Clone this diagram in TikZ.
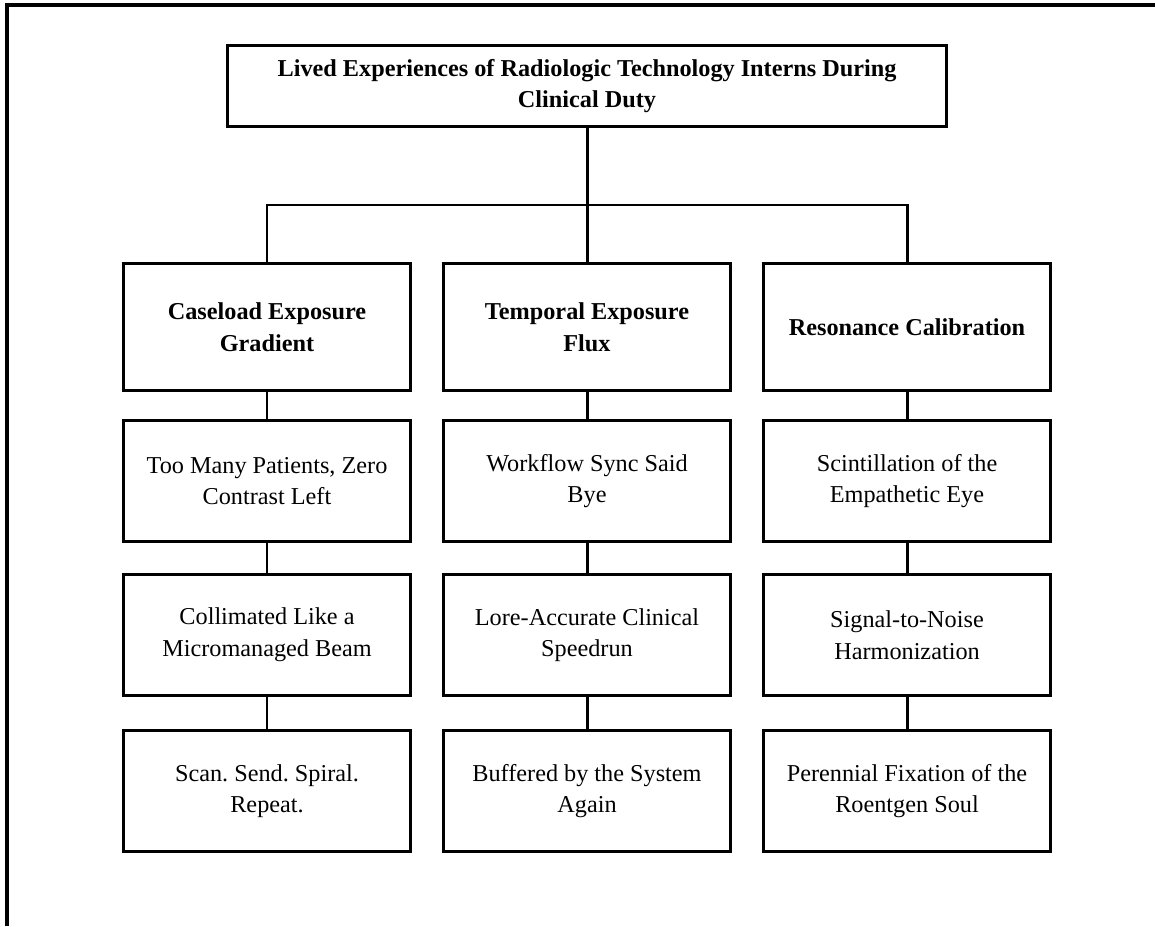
\documentclass[tikz,border=0pt]{standalone}
\usepackage{fontspec}
\setmainfont{Liberation Serif}
\usepackage{xcolor}
\usepackage{tikz}
\usetikzlibrary{positioning}
\frenchspacing
\tikzset{
    topnode/.style = {rectangle, draw=black, line width=1.7pt, align=center, font=\fontsize{13.8}{18}\selectfont\bfseries, minimum width=14.4cm, minimum height=1.62cm},
    headnode/.style = {rectangle, draw=black, line width=1.7pt, align=center, font=\fontsize{13.8}{18}\selectfont\bfseries, minimum width=5.76cm, minimum height=2.56cm},
    subnode/.style = {rectangle, draw=black, line width=1.7pt, align=center, font=\fontsize{13.8}{18}\selectfont, minimum width=5.76cm, minimum height=2.42cm},
}
\begin{document}
\begin{tikzpicture}[
	x=0.02cm,
	y=-0.02cm
]
\tikzset{
    link/.style = {-, line width=1.7pt, black},
    frame/.style = {-, line width=1.8pt, black}
}
\useasboundingbox (0,0) rectangle (1155,926);
\draw[frame] (1155,5) -- (7,5) -- (7,926);
%
\node[topnode] at (587,86) (lived) {Lived Experiences of Radiologic Technology Interns During\\Clinical Duty};
%
\node[headnode] at (267,327) (ceg) {Caseload Exposure\\Gradient};
\node[headnode] at (587,327) (tef) {Temporal Exposure\\Flux};
\node[headnode] at (907,327) (rc) {Resonance Calibration};
%
\node[subnode] at (267,481) (ceg1) {Too Many Patients, Zero\\Contrast Left};
\node[subnode] at (267,635) (ceg2) {Collimated Like a\\Micromanaged Beam};
\node[subnode] at (267,791) (ceg3) {Scan. Send. Spiral.\\Repeat.};
%
\node[subnode] at (587,481) (tef1) {Workflow Sync Said\\Bye};
\node[subnode] at (587,635) (tef2) {Lore-Accurate Clinical\\Speedrun};
\node[subnode] at (587,791) (tef3) {Buffered by the System\\Again};
%
\node[subnode] at (907,481) (rc1) {Scintillation of the\\Empathetic Eye};
\node[subnode] at (907,635) (rc2) {Signal-to-Noise\\Harmonization};
\node[subnode] at (907,791) (rc3) {Perennial Fixation of the\\Roentgen Soul};
%
\coordinate (bus) at (587,205);
\draw[link] (lived) edge (tef);
\draw[link] (ceg.north) |- (bus) -| (rc.north);
%
\draw[link] (ceg) edge (ceg1);
\draw[link] (ceg1) edge (ceg2);
\draw[link] (ceg2) edge (ceg3);
%
\draw[link] (tef) edge (tef1);
\draw[link] (tef1) edge (tef2);
\draw[link] (tef2) edge (tef3);
%
\draw[link] (rc) edge (rc1);
\draw[link] (rc1) edge (rc2);
\draw[link] (rc2) edge (rc3);
\end{tikzpicture}
\end{document}
